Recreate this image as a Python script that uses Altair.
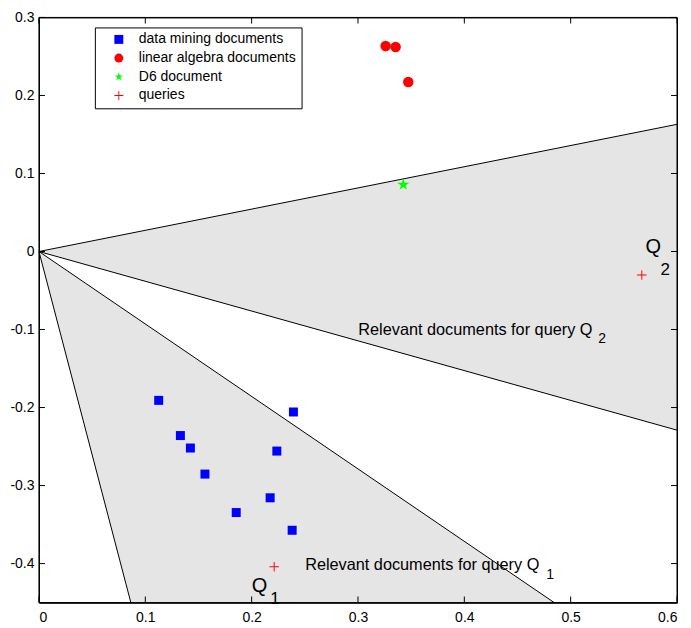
import altair as alt
import pandas as pd

# ---------------- data ----------------
series_names = ["data mining documents", "linear algebra documents", "D6 document", "queries"]

dm_x = [0.1126, 0.1330, 0.1424, 0.1561, 0.1855, 0.2174, 0.2237, 0.2393, 0.2381]
dm_y = [-0.1908, -0.2359, -0.2519, -0.2853, -0.3346, -0.3157, -0.2558, -0.2057, -0.3573]
la_x = [0.3260, 0.3354, 0.3473]
la_y = [0.2635, 0.2622, 0.2172]
d6_x = [0.3426]
d6_y = [0.0857]
q_x = [0.2212, 0.5669]
q_y = [-0.404, -0.030]

# cone boundaries (rays from origin)
ray_x2 = [0.6, 0.6, 0.0864, 0.4845]
ray_y2 = [0.163, -0.229, -0.45, -0.45]

x_domain = [0, 0.6]
y_domain = [-0.45, 0.3]
x_ticks = [0, 0.1, 0.2, 0.3, 0.4, 0.5, 0.6]
y_ticks = [-0.4, -0.3, -0.2, -0.1, 0, 0.1, 0.2, 0.3]

# annotations: main text and subscripts
main_text = ["Relevant documents for query Q", "Relevant documents for query Q"]
main_x = [0.3003, 0.2503]
main_y = [-0.1071, -0.4078]
q_text = ["Q", "Q"]
q_lx = [0.5703, 0.2002]
q_ly = [-0.0021, -0.4370]
sub_small_text = ["2", "1"]
sub_small_x = [0.5260, 0.4770]
sub_small_y = [-0.1177, -0.4198]
sub_big_text = ["2", "1"]
sub_big_x = [0.5844, 0.2175]
sub_big_y = [-0.0300, -0.4520]

# ---------------- layout ----------------
W, H = 639, 586
TICK_PX = 6
FONT = "Liberation Sans"
GRAY = "#e5e5e5"

xs = alt.Scale(domain=x_domain, nice=False, zero=False)
ys = alt.Scale(domain=y_domain, nice=False, zero=False)

lab_expr = "replace(datum.label, '\u2212', '-')"

ax_x = alt.Axis(orient="bottom", values=x_ticks, format=".1~f", labelExpr=lab_expr, ticks=False,
                domain=True, domainColor="black", domainWidth=1, grid=False, labelFont=FONT,
                labelFontSize=14, labelColor="black", labelPadding=8, title=None, zindex=2)
ax_y = alt.Axis(orient="left", values=y_ticks, format=".1~f", labelExpr=lab_expr, ticks=False,
                domain=True, domainColor="black", domainWidth=1, grid=False, labelFont=FONT,
                labelFontSize=14, labelColor="black", labelPadding=5, title=None, zindex=2)


def X(f):
    return alt.X(f, scale=xs, axis=ax_x)


def Y(f):
    return alt.Y(f, scale=ys, axis=ax_y)


# ---------------- shaded cones ----------------
cone2 = pd.DataFrame({"x": [0, ray_x2[0]], "y": [0, ray_y2[0]], "y2": [0, ray_y2[1]]})
area2 = alt.Chart(cone2).mark_area(color=GRAY, opacity=1).encode(
    x=X("x:Q"), y=Y("y:Q"), y2="y2:Q",
)
cone1 = pd.DataFrame({"y": [0, ray_y2[2]], "x": [0, ray_x2[2]], "x2": [0, ray_x2[3]]})
area1 = alt.Chart(cone1).mark_area(color=GRAY, opacity=1, orient="horizontal").encode(
    y=Y("y:Q"), x=X("x:Q"), x2="x2:Q",
)

# ---------------- rays ----------------
rays = pd.DataFrame({"x": [0] * 4, "y": [0] * 4, "x2": ray_x2, "y2": ray_y2})
ray_layer = alt.Chart(rays).mark_rule(color="black", strokeWidth=1).encode(
    x=X("x:Q"), y=Y("y:Q"), x2="x2:Q", y2="y2:Q")

# ---------------- frame box (outlined rect over the full domain) ----------------
x0, x1 = x_domain
y0, y1 = y_domain
frame = pd.DataFrame({"x": [x0], "x2": [x1], "y": [y0], "y2": [y1]})
frame_layer = alt.Chart(frame).mark_rect(fill=None, fillOpacity=0, stroke="black", strokeWidth=1).encode(
    x=X("x:Q"), x2="x2:Q", y=Y("y:Q"), y2="y2:Q")

# ---------------- inward ticks (MATLAB style) as thin filled rects ----------------
dy = TICK_PX * (y1 - y0) / H   # tick length in data units (vertical)
dx = TICK_PX * (x1 - x0) / W   # tick length in data units (horizontal)
hx = 0.5 * (x1 - x0) / W       # half a pixel, horizontally
hy = 0.5 * (y1 - y0) / H       # half a pixel, vertically
tick_rows = ([(v - hx, y0, v + hx, y0 + dy) for v in x_ticks]
             + [(v - hx, y1 - dy, v + hx, y1) for v in x_ticks]
             + [(x0, v - hy, x0 + dx, v + hy) for v in y_ticks]
             + [(x1 - dx, v - hy, x1, v + hy) for v in y_ticks])
ticks = pd.DataFrame(tick_rows, columns=["x", "y", "x2", "y2"])
tick_layer = alt.Chart(ticks).mark_rect(color="black", opacity=1).encode(
    x=X("x:Q"), x2="x2:Q", y=Y("y:Q"), y2="y2:Q")


# ---------------- annotations ----------------
def text_layer(tx, xx, yy, fs):
    df = pd.DataFrame({"x": xx, "y": yy, "t": tx})
    return alt.Chart(df).mark_text(align="left", baseline="alphabetic", font=FONT, color="black",
                                   fontSize=fs).encode(x=X("x:Q"), y=Y("y:Q"), text="t:N")


t_main = text_layer(main_text, main_x, main_y, 16.3)
t_sub_small = text_layer(sub_small_text, sub_small_x, sub_small_y, 14)
t_q = text_layer(q_text, q_lx, q_ly, 20)
t_sub_big = text_layer(sub_big_text, sub_big_x, sub_big_y, 17)

# ---------------- points ----------------
star = ("M0,-1L0.2245,-0.309L0.951,-0.309L0.363,0.118L0.588,0.809L0,0.382"
        "L-0.588,0.809L-0.363,0.118L-0.951,-0.309L-0.2245,-0.309Z")
plus = "M-1,-0.1L1,-0.1L1,0.1L-1,0.1ZM-0.1,-1L0.1,-1L0.1,1L-0.1,1Z"

leg = alt.Legend(orient="none", legendX=56, legendY=10, title=None, fillColor="white", strokeColor="black",
                 padding=5, symbolOffset=12, labelOffset=13, rowPadding=4.7, labelFont=FONT,
                 labelFontSize=14, labelColor="black", symbolSize=80)
color_enc = alt.Color("series:N", scale=alt.Scale(domain=series_names,
                                                  range=["#0000ff", "#ff0000", "#00ff00", "#ff0000"]),
                      legend=leg)
shape_enc = alt.Shape("series:N", scale=alt.Scale(domain=series_names, range=["square", "circle", star, plus]),
                      legend=leg)


def point_layer(xx, yy, name, sz):
    df = pd.DataFrame({"x": xx, "y": yy, "series": [name] * len(xx)})
    return alt.Chart(df).mark_point(filled=True, opacity=1, size=sz).encode(
        x=X("x:Q"), y=Y("y:Q"), color=color_enc, shape=shape_enc)


p_dm = point_layer(dm_x, dm_y, series_names[0], 81)
p_la = point_layer(la_x, la_y, series_names[1], 110)
p_d6 = point_layer(d6_x, d6_y, series_names[2], 160)
p_q = point_layer(q_x, q_y, series_names[3], 90)

chart = alt.layer(area2, area1, t_main, t_sub_small, t_q, t_sub_big, ray_layer, frame_layer, tick_layer,
                  p_dm, p_la, p_d6, p_q).properties(
    width=W, height=H, background="white",
    padding={"left": 1, "top": 2, "right": 5, "bottom": 5}
).configure_view(
    stroke="black", strokeWidth=1
)

chart.save("out.html", embed_options={"renderer": "svg", "actions": False})
